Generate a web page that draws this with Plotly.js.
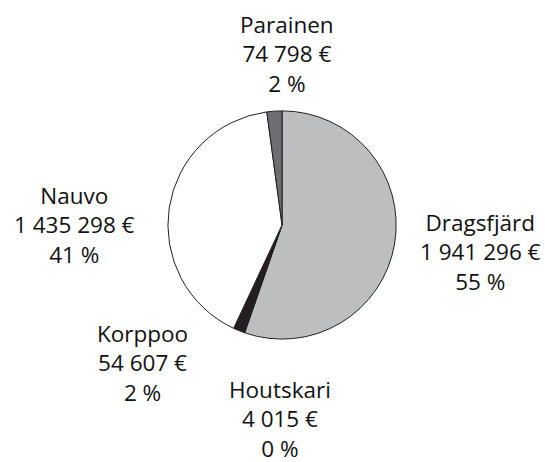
<!DOCTYPE html>
<html>
<head>
<meta charset="utf-8">
<script src="https://cdn.plot.ly/plotly-3.0.1.min.js"></script>
<style>html,body{margin:0;padding:0;background:#fff;}#chart{width:545px;height:462px;}</style>
</head>
<body>
<div id="chart"></div>
<script>
const labels = ["Dragsfjärd", "Houtskari", "Korppoo", "Nauvo", "Parainen"];
const values = [1941296, 4015, 54607, 1435298, 74798];
const colors = ["#bcbec0", "#939598", "#231f20", "#ffffff", "#6d6e71"];
// label anchor positions (paper coords) for each slice's text block
const labelX = [0.881, 0.514, 0.261, 0.137, 0.527];
const labelY = [0.455, 0.094, 0.214, 0.513, 0.883];

const total = values.reduce((a, b) => a + b, 0);
function fmt(n) {
  return String(n).replace(/\B(?=(\d{3})+(?!\d))/g, " ");
}
const annotations = labels.map((l, i) => ({
  text: l + "<br>" + fmt(values[i]) + " €<br>" + Math.round(values[i] / total * 100) + " %",
  x: labelX[i], y: labelY[i], xref: "paper", yref: "paper",
  xanchor: "center", yanchor: "middle", showarrow: false, align: "center",
  font: {family: "Open Sans, sans-serif", size: 22.5, color: "#111"}
}));

const data = [{
  type: "pie",
  labels: labels,
  values: values,
  sort: false,
  direction: "clockwise",
  rotation: 0,
  textinfo: "none",
  hoverinfo: "none",
  marker: {colors: colors, line: {color: "#231f20", width: 1}},
  domain: {x: [0.308, 0.727], y: [0.266, 0.760]}
}];

const layout = {
  width: 545, height: 462,
  margin: {l: 0, r: 0, t: 0, b: 0},
  showlegend: false,
  paper_bgcolor: "#fff",
  annotations: annotations
};
Plotly.newPlot("chart", data, layout, {displayModeBar: false, staticPlot: true});
</script>
</body>
</html>
